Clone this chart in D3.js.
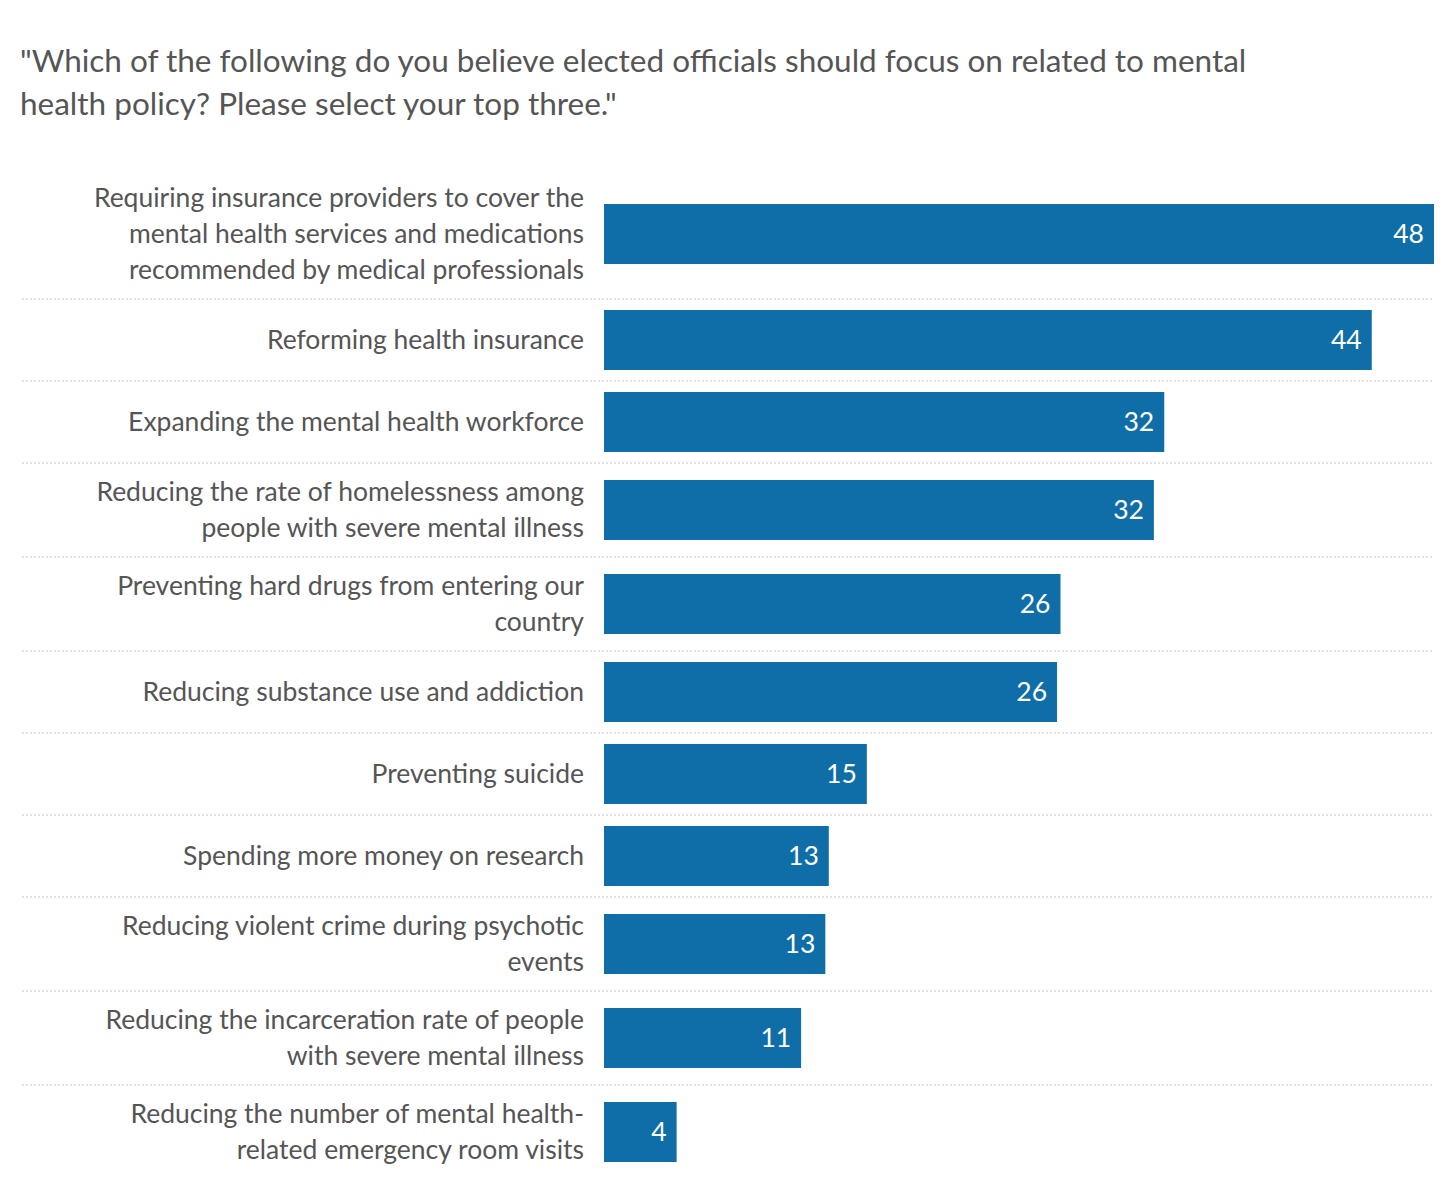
<!DOCTYPE html>
<html>
<head>
<meta charset="utf-8">
<script src="https://cdn.jsdelivr.net/npm/d3@7.9.0/dist/d3.min.js"></script>
<style>
  body { margin: 0; background: #fff; font-family: Lato, "Open Sans", sans-serif; }
  .title { fill: #555; font-size: 31.5px; }
  .cat { fill: #555; font-size: 26.5px; }
  .val { fill: #fff; font-size: 26.5px; }
</style>
</head>
<body>
<svg id="chart" width="1456" height="1188"></svg>
<script>
// categories (line breaks as in the picture)
const categories = [
  'Requiring insurance providers to cover the\nmental health services and medications\nrecommended by medical professionals',
  'Reforming health insurance',
  'Expanding the mental health workforce',
  'Reducing the rate of homelessness among\npeople with severe mental illness',
  'Preventing hard drugs from entering our\ncountry',
  'Reducing substance use and addiction',
  'Preventing suicide',
  'Spending more money on research',
  'Reducing violent crime during psychotic\nevents',
  'Reducing the incarceration rate of people\nwith severe mental illness',
  'Reducing the number of mental health-\nrelated emergency room visits'
];
const values = [48, 44.4, 32.4, 31.8, 26.4, 26.2, 15.2, 13.0, 12.8, 11.4, 4.2];
const titleLines = [
  '"Which of the following do you believe elected officials should focus on related to mental',
  'health policy? Please select your top three."'
];

const svg = d3.select('#chart');
const left = 604, right = 1434, top0 = 169, barH = 60, lineH = 36;

svg.selectAll('text.title').data(titleLines).join('text')
  .attr('class', 'title').attr('x', 20).attr('y', (d, i) => 72 + i * 43).text(d => d);

const x = d3.scaleLinear().domain([0, 48]).range([left, right]);

// row layout: band height depends on the number of label lines
const rows = categories.map((c, i) => {
  const lines = c.split('\n');
  return { lines, value: values[i], h: Math.max(82, lines.length * lineH + 22) };
});
const ends = d3.cumsum(rows, d => d.h);
rows.forEach((r, i) => { r.y0 = top0 + ends[i] - r.h; r.cy = r.y0 + r.h / 2; });

const g = svg.selectAll('g.row').data(rows).join('g').attr('class', 'row');

g.filter((d, i) => i < rows.length - 1).append('line')
  .attr('x1', 22).attr('x2', right)
  .attr('y1', d => d.y0 + d.h).attr('y2', d => d.y0 + d.h)
  .attr('stroke', '#c8c8c8').attr('stroke-width', 1.2).attr('stroke-dasharray', '2,2');

g.append('rect')
  .attr('x', x(0)).attr('y', d => d.cy - barH / 2)
  .attr('width', d => x(d.value) - x(0)).attr('height', barH)
  .attr('fill', '#0f6ea8');

g.append('text').attr('class', 'val')
  .attr('x', d => x(d.value) - 10).attr('y', d => d.cy + 9)
  .attr('text-anchor', 'end').text(d => d3.format('.0f')(d.value));

g.append('text').attr('class', 'cat').attr('text-anchor', 'end')
  .selectAll('tspan').data(d => d.lines.map((l, i) => ({ l, i, n: d.lines.length, cy: d.cy })))
  .join('tspan').attr('x', 584)
  .attr('y', t => t.cy + (t.i - (t.n - 1) / 2) * lineH + 9)
  .text(t => t.l);
</script>
</body>
</html>
